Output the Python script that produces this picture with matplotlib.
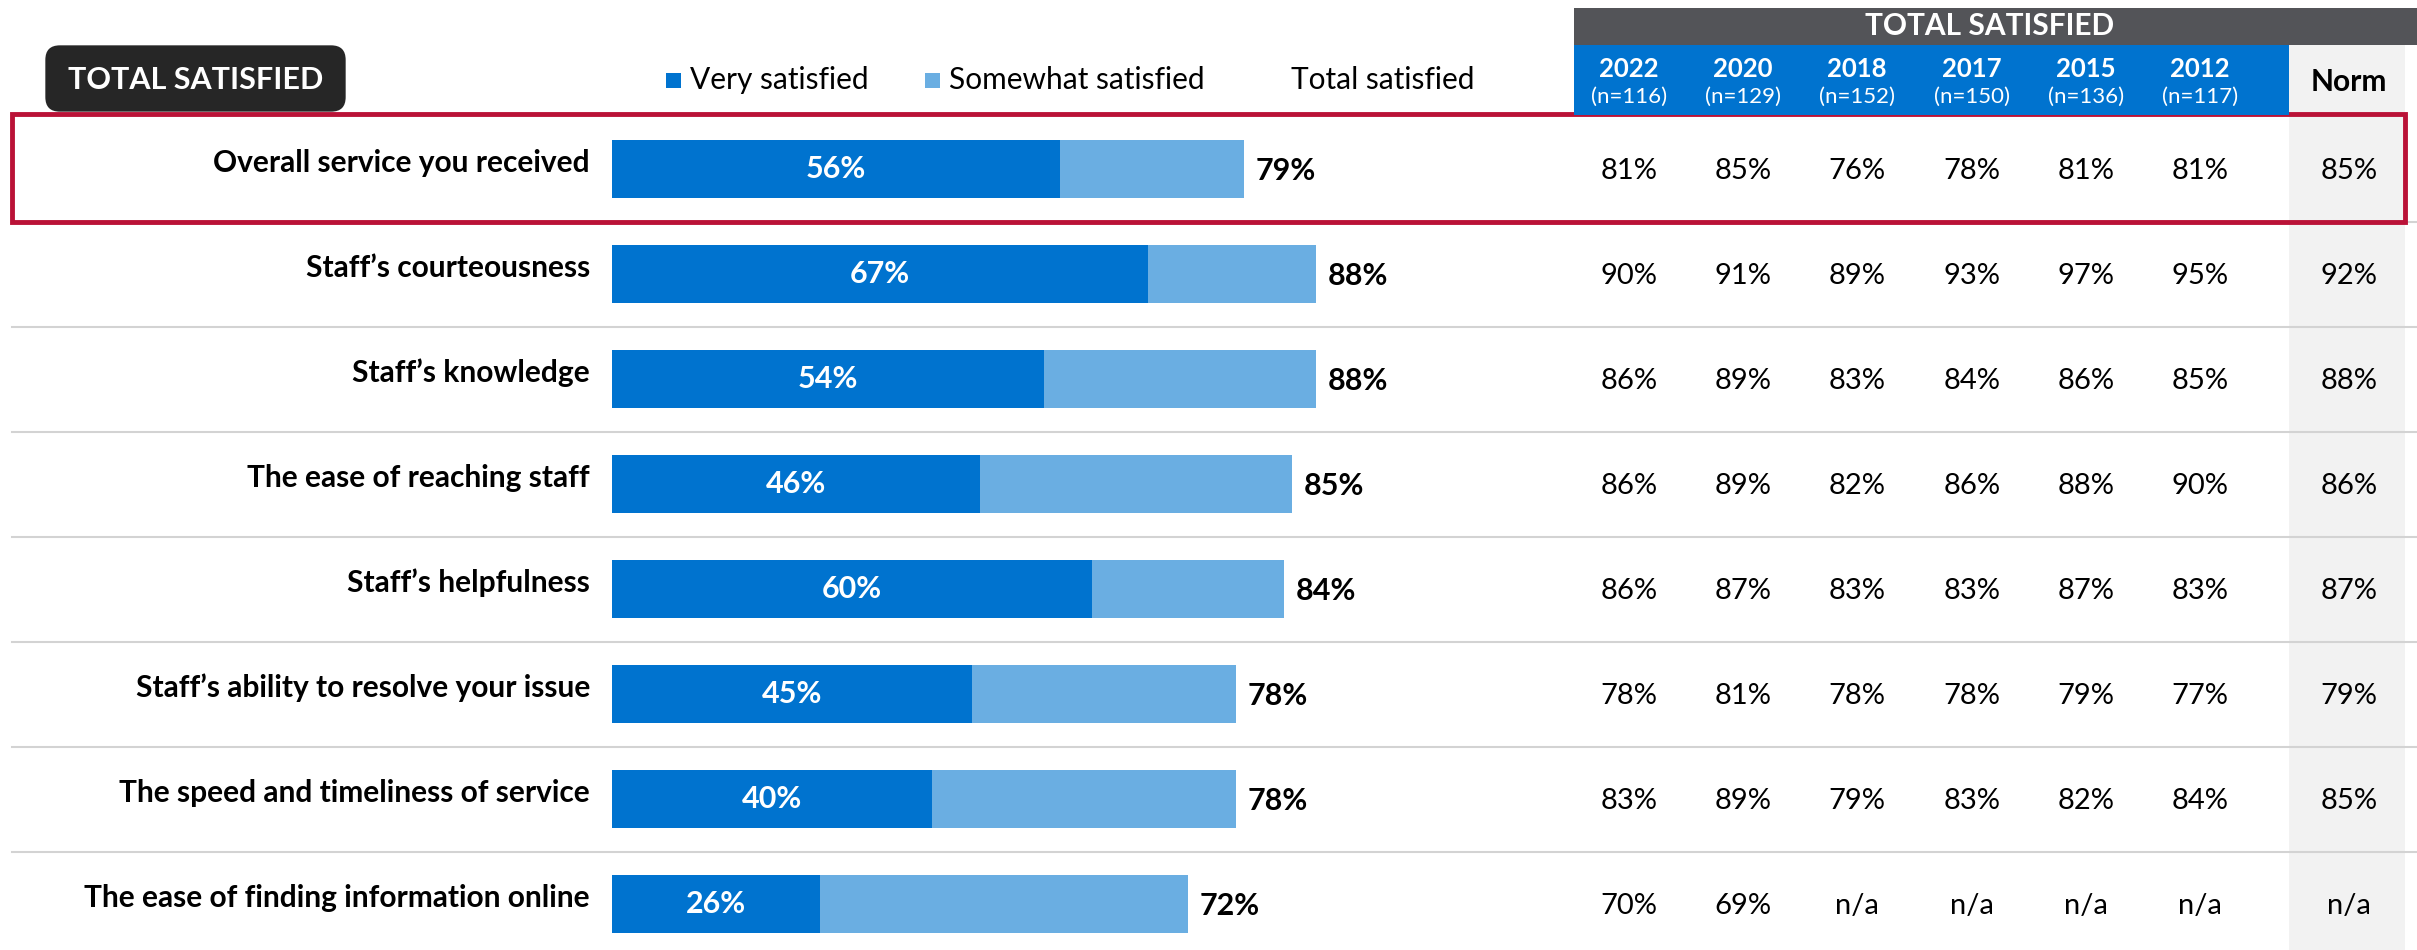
import matplotlib.pyplot as plt
from matplotlib.patches import Rectangle, FancyBboxPatch
from matplotlib.transforms import blended_transform_factory
import numpy as np

plt.rcParams['font.family'] = ['Lato', 'DejaVu Sans']

# survey items, top to bottom
categories = [
    'Overall service you received',
    'Staff\u2019s courteousness',
    'Staff\u2019s knowledge',
    'The ease of reaching staff',
    'Staff\u2019s helpfulness',
    'Staff\u2019s ability to resolve your issue',
    'The speed and timeliness of service',
    'The ease of finding information online',
]
very_satisfied = [56, 67, 54, 46, 60, 45, 40, 26]
total_satisfied = [79, 88, 88, 85, 84, 78, 78, 72]

# trend table (None = n/a)
years = ['2022', '2020', '2018', '2017', '2015', '2012']
sample_sizes = ['(n=116)', '(n=129)', '(n=152)', '(n=150)', '(n=136)', '(n=117)']
sat_2022 = [81, 90, 86, 86, 86, 78, 83, 70]
sat_2020 = [85, 91, 89, 89, 87, 81, 89, 69]
sat_2018 = [76, 89, 83, 82, 83, 78, 79, None]
sat_2017 = [78, 93, 84, 86, 83, 78, 83, None]
sat_2015 = [81, 97, 86, 88, 87, 79, 82, None]
sat_2012 = [81, 95, 85, 90, 83, 77, 84, None]
norm = [85, 92, 88, 86, 87, 79, 85, None]

DARK = '#0073CF'
LIGHT = '#6AAEE2'
HEADER_GREY = '#535458'
RED = '#BA1237'

W, H = 2417, 950
fig = plt.figure(figsize=(W / 100, H / 100), dpi=100)


def fx(px):
    return px / W


def fy(py):
    return 1 - py / H


# bar axes: 0-100 % spans 612..1412 px, rows centred at 169 + 105*i px
row0, pitch = 169, 105
ax = fig.add_axes([fx(612), 0, fx(800), 1])
ax.set_xlim(0, 100)
ax.set_ylim((H - row0) / pitch, -row0 / pitch)
ax.axis('off')

y = np.arange(len(categories))
very = np.array(very_satisfied)
total = np.array(total_satisfied)
somewhat = total - very

ax.barh(y, very, height=0.55, color=DARK, zorder=3)
ax.barh(y, somewhat, left=very, height=0.55, color=LIGHT, zorder=3)

for i in y:
    ax.text(very[i] / 2, i, f'{very[i]}%', color='white', fontsize=22,
            fontweight='bold', ha='center', va='center', zorder=4)
    ax.text(total[i] + 1.5, i + 0.02, f'{total[i]}%', color='black',
            fontsize=22, fontweight='bold', ha='left', va='center', zorder=4)

# text placed by figure x and row index
row_tr = blended_transform_factory(fig.transFigure, ax.transData)

for i, cat in enumerate(categories):
    ax.text(fx(590), i - 0.06, cat, transform=row_tr, fontsize=21.5,
            fontweight='bold', ha='right', va='center')

# row separators
for i in range(len(categories) - 1):
    ax.plot([fx(12), 1], [i + 0.5, i + 0.5], transform=row_tr,
            color='#D3D3D3', lw=1.5, clip_on=False, zorder=1)

# norm column background
fig.add_artist(Rectangle((fx(2289), 0), fx(2405) - fx(2289), fy(45),
                         transform=fig.transFigure, facecolor='#F2F2F2',
                         edgecolor='none', zorder=0))

# header bands
fig.add_artist(Rectangle((fx(1574), fy(45)), 1 - fx(1574), fy(8) - fy(45),
                         transform=fig.transFigure, facecolor=HEADER_GREY,
                         edgecolor='none'))
fig.text(fx(1990), fy(26), 'TOTAL SATISFIED', color='white', fontsize=21.5,
         fontweight='bold', ha='center', va='center')
fig.add_artist(Rectangle((fx(1574), fy(115)), fx(2289) - fx(1574),
                         fy(45) - fy(115), transform=fig.transFigure,
                         facecolor=DARK, edgecolor='none'))

col_x = [1629, 1743, 1857, 1972, 2086, 2200]
norm_x = 2349
for cx, yr, n in zip(col_x, years, sample_sizes):
    fig.text(fx(cx), fy(69), yr, color='white', fontsize=18.5,
             fontweight='bold', ha='center', va='center')
    fig.text(fx(cx), fy(97), n, color='white', fontsize=16,
             ha='center', va='center')
fig.text(fx(norm_x), fy(82), 'Norm', color='black', fontsize=21.5,
         fontweight='bold', ha='center', va='center')

history = [sat_2022, sat_2020, sat_2018, sat_2017, sat_2015, sat_2012]
for cx, col in zip(col_x + [norm_x], history + [norm]):
    for i, v in enumerate(col):
        label = 'n/a' if v is None else f'{v}%'
        ax.text(fx(cx), i + 0.02, label, transform=row_tr, fontsize=21,
                ha='center', va='center')

# highlight box around the first row
ax.add_patch(Rectangle((fx(12), -0.525), fx(2405) - fx(12), 1.03,
                       transform=row_tr, facecolor='none', edgecolor=RED,
                       lw=3.5, clip_on=False, zorder=5))

# section tag
fig.add_artist(FancyBboxPatch((fx(55), fy(102)), fx(281), fy(55) - fy(102),
                              boxstyle='round,pad=0.004,rounding_size=0.006',
                              transform=fig.transFigure, facecolor='#262626',
                              edgecolor='none', mutation_aspect=W / H))
fig.text(fx(196), fy(80), 'TOTAL SATISFIED', color='white', fontsize=22,
         fontweight='bold', ha='center', va='center')

# legend
for sx, col, lab in [(666, DARK, 'Very satisfied'),
                     (925, LIGHT, 'Somewhat satisfied')]:
    fig.add_artist(Rectangle((fx(sx), fy(88)), fx(15), fy(73) - fy(88),
                             transform=fig.transFigure, facecolor=col,
                             edgecolor='none'))
    fig.text(fx(sx + 24), fy(80), lab, fontsize=21.5, ha='left', va='center')
fig.text(fx(1383), fy(80), 'Total satisfied', fontsize=21.5,
         ha='center', va='center')

fig.savefig('out.png', dpi=100, facecolor='white')
